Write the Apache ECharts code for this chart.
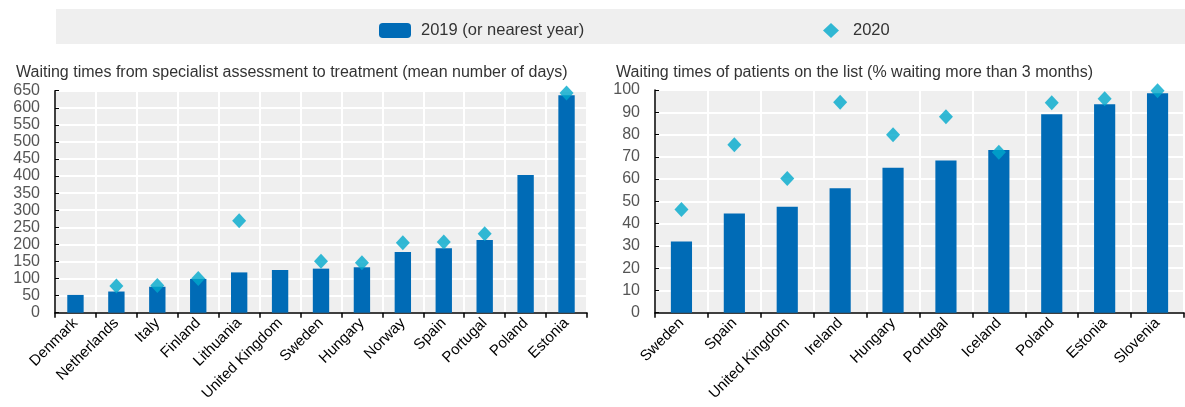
<!DOCTYPE html>
<html><head><meta charset="utf-8">
<script src="https://cdn.jsdelivr.net/npm/echarts@6/dist/echarts.min.js"></script>
<style>html,body{margin:0;padding:0;background:#fff}#c{width:1185px;height:407px}</style>
</head><body><div id="c"></div>
<script>
const FONT = '"Liberation Sans", Arial, sans-serif';
const seriesNames = ['2019 (or nearest year)', '2020'];
const leftTitle = 'Waiting times from specialist assessment to treatment (mean number of days)';
const rightTitle = 'Waiting times of patients on the list (% waiting more than 3 months)';
const leftCats = ['Denmark','Netherlands','Italy','Finland','Lithuania','United Kingdom','Sweden','Hungary','Norway','Spain','Portugal','Poland','Estonia'];
const left2019 = [52, 62, 76, 99, 118, 125, 129, 133, 178, 189, 213, 403, 637];
const left2020 = [null, 78, 80, 100, 269, null, 151, 146, 205, 207, 231, null, 643];
const rightCats = ['Sweden','Spain','United Kingdom','Ireland','Hungary','Portugal','Iceland','Poland','Estonia','Slovenia'];
const right2019 = [32, 44.5, 47.6, 55.9, 65.1, 68.3, 73.1, 89.1, 93.6, 98.5];
const right2020 = [46.3, 75.4, 60.3, 94.5, 79.9, 88, 72, 94.3, 96.1, 99.7];
const leftTicks = {min: 0, max: 650, interval: 50};
const rightTicks = {min: 0, max: 100, interval: 10};

const BAR = '#006bb6', DIA = '#00a9cc';
const chart = echarts.init(document.getElementById('c'), null, {renderer: 'canvas'});
function xAxis(idx, cats) {
  return {
    type: 'category', gridIndex: idx, data: cats, boundaryGap: true,
    axisLine: {lineStyle: {color: '#000', width: 1.5}},
    axisTick: {show: true, interval: 0, length: 5, lineStyle: {color: '#000', width: 1.5}},
    splitLine: {show: true, interval: 0, lineStyle: {color: '#fff', width: 2}},
    axisLabel: {interval: 0, rotate: 45, fontFamily: FONT, fontSize: 15, color: '#000', margin: 8}
  };
}
function yAxis(idx, t) {
  return {
    type: 'value', gridIndex: idx, min: t.min, max: t.max, interval: t.interval,
    axisLine: {show: true, lineStyle: {color: '#000', width: 1.5}},
    axisTick: {show: true, inside: true, length: 4, lineStyle: {color: '#000'}},
    splitLine: {show: true, lineStyle: {color: '#fff', width: 2}},
    axisLabel: {fontFamily: FONT, fontSize: 16, color: '#555', margin: 15}
  };
}
chart.setOption({
  animation: false,
  graphic: [{type: 'rect', shape: {x: 56, y: 9, width: 1129, height: 35}, style: {fill: '#efefef'}, z: -1}],
  title: [
    {text: leftTitle, left: 11, top: 60, textStyle: {fontFamily: FONT, fontSize: 16, fontWeight: 'normal', color: '#333'}},
    {text: rightTitle, left: 611, top: 60, textStyle: {fontFamily: FONT, fontSize: 16, fontWeight: 'normal', color: '#333'}}
  ],
  legend: [
    {data: [seriesNames[0]], left: 374, top: 17, itemWidth: 32, itemHeight: 15, itemGap: 10,
     textStyle: {fontFamily: FONT, fontSize: 16.5, color: '#333', padding: [0, 0, 0, 5]}},
    {data: [{name: seriesNames[1], icon: 'diamond'}], left: 818, top: 17, itemWidth: 16, itemHeight: 15, itemGap: 10,
     textStyle: {fontFamily: FONT, fontSize: 16.5, color: '#333', padding: [0, 0, 0, 9]}}
  ],
  grid: [
    {left: 55, top: 90.7, width: 532, height: 222, show: true, backgroundColor: '#efefef', borderWidth: 0},
    {left: 655, top: 90, width: 529, height: 222.7, show: true, backgroundColor: '#efefef', borderWidth: 0}
  ],
  xAxis: [xAxis(0, leftCats), xAxis(1, rightCats)],
  yAxis: [yAxis(0, leftTicks), yAxis(1, rightTicks)],
  series: [
    {name: seriesNames[0], type: 'bar', xAxisIndex: 0, yAxisIndex: 0, data: left2019, barWidth: '40%', itemStyle: {color: BAR}},
    {name: seriesNames[1], type: 'scatter', xAxisIndex: 0, yAxisIndex: 0, data: left2020, symbol: 'diamond', symbolSize: [14, 15], itemStyle: {color: DIA}, z: 5},
    {name: seriesNames[0], type: 'bar', xAxisIndex: 1, yAxisIndex: 1, data: right2019, barWidth: '40%', itemStyle: {color: BAR}},
    {name: seriesNames[1], type: 'scatter', xAxisIndex: 1, yAxisIndex: 1, data: right2020, symbol: 'diamond', symbolSize: [14, 15], itemStyle: {color: DIA}, z: 5}
  ]
});
</script></body></html>
